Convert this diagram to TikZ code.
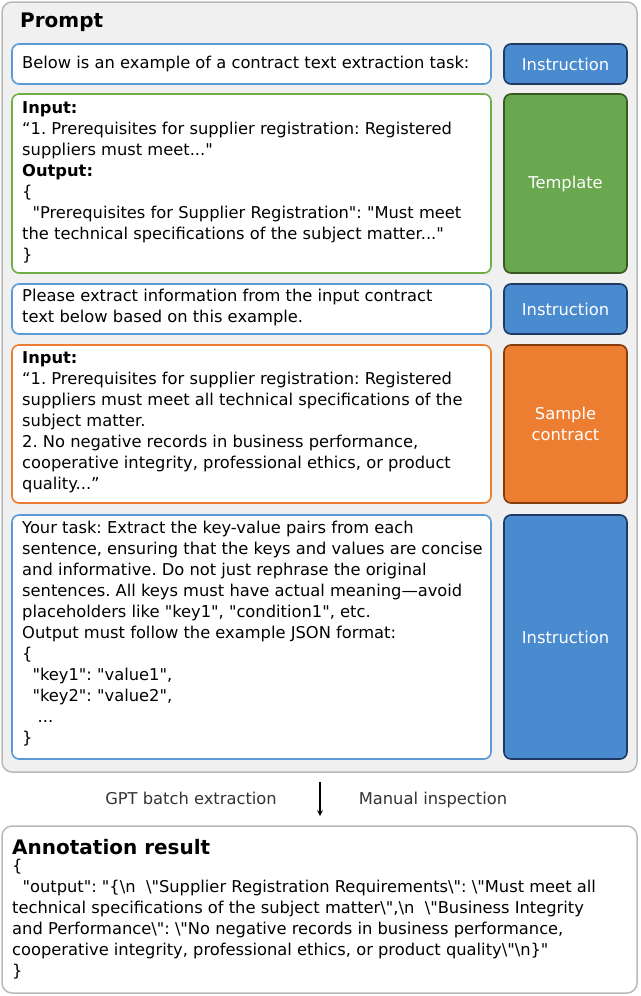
\documentclass[tikz,border=0pt]{standalone}
\usepackage{fontspec}
\setmainfont{DejaVu Sans}[Ligatures=TeXOff]
\begin{document}
\frenchspacing
\begin{tikzpicture}[x=1pt,y=-1pt,
 txt/.style={anchor=north west,align=left,inner sep=0pt,font=\fontsize{16.3}{21}\selectfont},
 box/.style={draw,line width=1.6pt,rounded corners=7pt,fill=white},
 lab/.style={draw,line width=1.6pt,rounded corners=7pt,text=white,align=center,font=\fontsize{16.3}{21}\selectfont},
 ttl/.style={anchor=west,inner sep=0pt,font=\fontsize{20}{22}\selectfont\bfseries}]
\definecolor{bl}{HTML}{5B9BD5}\definecolor{blf}{HTML}{4A8BD0}\definecolor{bld}{HTML}{1F3864}
\definecolor{gr}{HTML}{70AD47}\definecolor{grf}{HTML}{6AA84F}\definecolor{grd}{HTML}{385723}
\definecolor{orf}{HTML}{ED7D31}\definecolor{ord}{HTML}{843C0C}
\useasboundingbox (0,0) rectangle (640,996);
\draw[draw=gray!55,fill=gray!12,line width=1.5pt,rounded corners=10pt] (2,2) rectangle (637,772);
\node[ttl] (p) at (20,22) {Prompt};
% boxes
\draw[box,draw=bl] (12,44) rectangle (491,84);
\node[lab,fill=blf,draw=bld,minimum width=123pt,minimum height=40pt] (l1) at (565.5,64) {Instruction};
\node[anchor=west,inner sep=0pt,font=\fontsize{16.3}{21}\selectfont] (t1) at (22,64) {Below is an example of a contract text extraction task:};
\draw[box,draw=gr] (12,94) rectangle (491,273);
\node[lab,fill=grf,draw=grd,minimum width=123pt,minimum height=179pt] (l2) at (565.5,183.5) {Template};
\node[txt] (t2) at (22,101) {\textbf{Input:}\\“1. Prerequisites for supplier registration: Registered\\suppliers must meet..."\\\textbf{Output:}\\\{\\\ \ "Prerequisites for Supplier Registration": "Must meet\\the technical specifications of the subject matter..."\\\}};
\draw[box,draw=bl] (12,284) rectangle (491,334);
\node[lab,fill=blf,draw=bld,minimum width=123pt,minimum height=50pt] (l3) at (565.5,309) {Instruction};
\node[txt] (t3) at (22,289) {Please extract information from the input contract\\text below based on this example.};
\draw[box,draw=orf] (12,345) rectangle (491,503);
\node[lab,fill=orf,draw=ord,minimum width=123pt,minimum height=158pt] (l4) at (565.5,424) {Sample\\contract};
\node[txt] (t4) at (22,351) {\textbf{Input:}\\“1. Prerequisites for supplier registration: Registered\\suppliers must meet all technical specifications of the\\subject matter.\\2. No negative records in business performance,\\cooperative integrity, professional ethics, or product\\quality...”};
\draw[box,draw=bl] (12,515) rectangle (491,759);
\node[lab,fill=blf,draw=bld,minimum width=123pt,minimum height=244pt] (l5) at (565.5,637) {Instruction};
\node[txt] (t5) at (22,521) {Your task: Extract the key-value pairs from each\\sentence, ensuring that the keys and values are concise\\and informative. Do not just rephrase the original\\sentences. All keys must have actual meaning—avoid\\placeholders like "key1", "condition1", etc.\\Output must follow the example JSON format:\\\{\\\ \ "key1": "value1",\\\ \ "key2": "value2",\\\ \ \ ...\\\}};
% arrow
\coordinate (a1) at (320,782);
\coordinate (a2) at (320,816);
\draw[line width=1.5pt,-stealth] (a1) -- (a2);
\node[anchor=base,font=\fontsize{16.3}{18}\selectfont,text=black!80] (g) at (191,804) {GPT batch extraction};
\node[anchor=base,font=\fontsize{16.3}{18}\selectfont,text=black!80] (m) at (433,804) {Manual inspection};
% result
\draw[draw=gray!55,fill=white,line width=1.5pt,rounded corners=10pt] (2,826) rectangle (637,993);
\node[ttl] (r) at (12,847) {Annotation result};
\node[txt] (t6) at (12,859) {\{\\\ \ "output": "\{\textbackslash n\ \ \textbackslash"Supplier Registration Requirements\textbackslash": \textbackslash"Must meet all\\technical specifications of the subject matter\textbackslash",\textbackslash n\ \ \textbackslash"Business Integrity\\and Performance\textbackslash": \textbackslash"No negative records in business performance,\\cooperative integrity, professional ethics, or product quality\textbackslash"\textbackslash n\}"\\\}};
\end{tikzpicture}
\end{document}
